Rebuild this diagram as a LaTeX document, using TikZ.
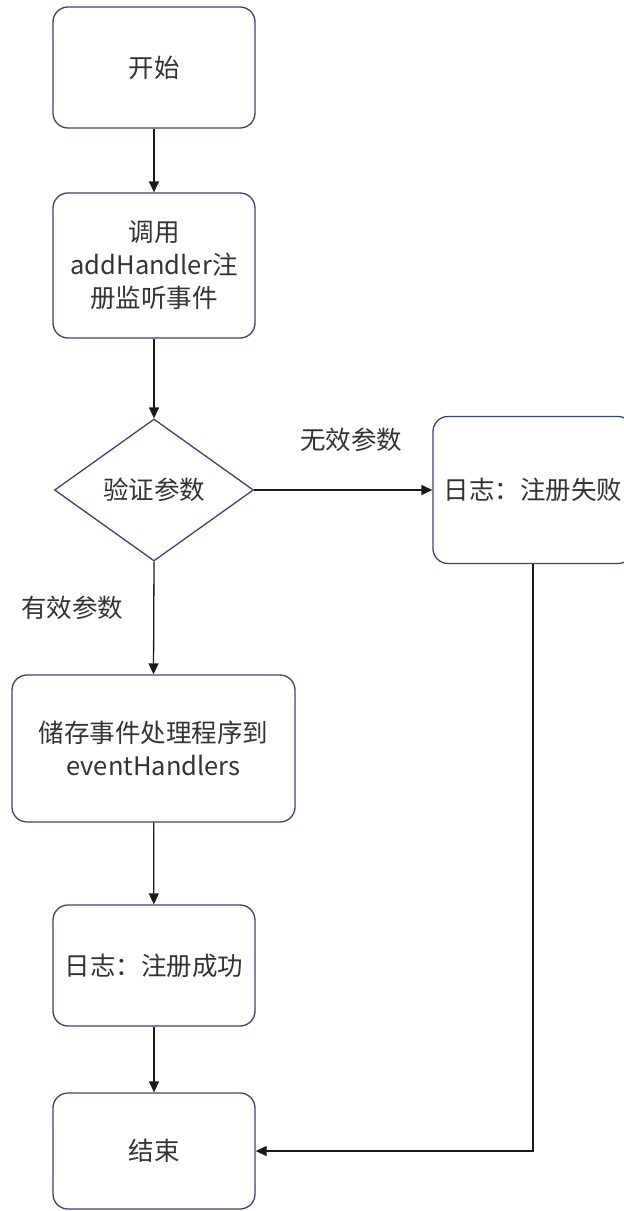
\documentclass[tikz,border=0pt]{standalone}
\usepackage{fontspec}
\setmainfont{Noto Sans CJK SC}
\usetikzlibrary{arrows.meta,shapes.geometric}
\definecolor{boxline}{HTML}{3B4470}
\definecolor{txt}{HTML}{333333}
\definecolor{arrowc}{HTML}{1A1A1A}
\begin{document}
\begin{tikzpicture}[x=1pt,y=-1pt,
  box/.style={draw=boxline, line width=1.3pt, rounded corners=15pt, fill=white,
    align=center, text=txt, font=\fontsize{25.5}{33}\selectfont, inner sep=0pt,
    minimum width=202pt},
  decision/.style={draw=boxline, line width=1.3pt, diamond, fill=white,
    align=center, text=txt, font=\fontsize{25.5}{33}\selectfont, inner sep=0pt,
    minimum width=199pt, minimum height=142pt},
  lbl/.style={text=txt, font=\fontsize{25.5}{33}\selectfont, inner sep=0pt},
  arr/.style={draw=arrowc, line width=1.3pt, -{Triangle[length=11pt,width=10pt]}}
]
\useasboundingbox (0,0) rectangle (624,1211);
\node[box, minimum height=121pt] (start) at (154,67.5) {开始};
\node[box, minimum height=145pt] (call) at (154,265.5) {调用\\addHandler注\\册监听事件};
\node[decision] (check) at (154,490) {验证参数};
\node[box, minimum width=200pt, minimum height=147pt] (fail) at (533,490) {日志：注册失败};
\node[box, minimum width=283pt, minimum height=147pt] (store) at (153.5,748.5) {储存事件处理程序到\\eventHandlers};
\node[box, minimum height=121pt] (ok) at (154,965.5) {日志：注册成功};
\node[box, minimum height=116pt] (end) at (154,1151) {结束};
\node[lbl] (invalid) at (351,440) {无效参数};
\node[lbl] (valid) at (72,608) {有效参数};
\draw[arr] (start) -- (call);
\draw[arr] (call) -- (check);
\draw[arr] (check.east) -- (fail.west);
\draw[arr] (check.south) -- (store.north);
\draw[arr] (store) -- (ok);
\draw[arr] (ok) -- (end);
\draw[arr] (fail.south) |- (end.east);
\end{tikzpicture}
\end{document}
